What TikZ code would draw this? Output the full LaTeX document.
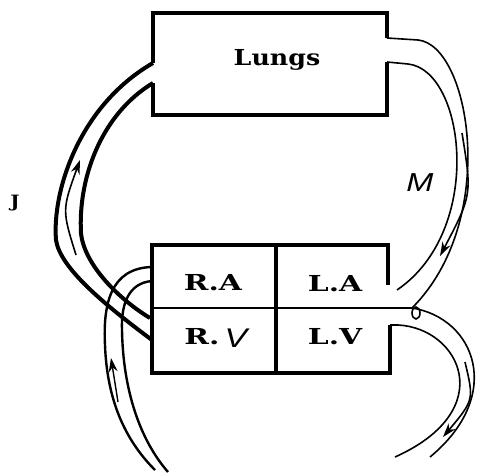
\documentclass[tikz,border=0pt]{standalone}
\usepackage{fontspec}
\usetikzlibrary{arrows.meta}
\newfontfamily\labfont[FakeStretch=1.15]{DejaVu Serif}
\newfontfamily\boxfont[FakeStretch=1.35]{DejaVu Serif}
\newfontfamily\handfont[FakeStretch=1.25]{Liberation Sans}
\begin{document}
\begin{tikzpicture}[x=1pt,y=-1pt,
  lab/.style={font=\labfont\bfseries\fontsize{22}{24}\selectfont, inner sep=0pt},
  boxlab/.style={font=\boxfont\bfseries\fontsize{22}{24}\selectfont, inner sep=0pt},
  hand/.style={font=\handfont\itshape\fontsize{27}{29}\selectfont, inner sep=0pt},
  lungwall/.style={line width=4pt, line join=miter},
  heartwall/.style={line width=3.2pt, line join=miter},
  thickvessel/.style={line width=4pt},
  medvessel/.style={line width=2.4pt},
  thinvessel/.style={line width=1.6pt},
  flow/.style={line width=1.6pt, -{Stealth[length=14pt,width=9pt]}}]
\useasboundingbox (0,0) rectangle (481,474);
\fill[white] (0,0) rectangle (481,474);

% key points
\coordinate (LuTR) at (387,38);
\coordinate (LuBR) at (387,62);
\coordinate (LuTL) at (153,63);
\coordinate (LuBL) at (153,83);
\coordinate (Jout) at (152,340);
\coordinate (Jin) at (150,318);
\coordinate (VCo) at (152,267);
\coordinate (VCi) at (152,281);
\coordinate (junc) at (412,308);
\coordinate (LAin) at (397,290);
\coordinate (LVo) at (390,325);

% Lungs box
\draw[lungwall] (LuTR) -- (387,13) -- (153,13) -- (LuTL);
\draw[lungwall] (LuBL) -- (153,115) -- (387,115) -- (LuBR);
\node[lab] (lungs) at (277,60) {Lungs};

% Heart box
\draw[heartwall] (388,285) -- (388,245) -- (152,245) -- (152,373) -- (390,373) -- (LVo);
\draw[heartwall] (276,245) -- (276,373);
\draw[line width=2.2pt] (152,308) -- (junc);
\node[boxlab] (ra) at (213,283) {R.A};
\node[boxlab] (la) at (335,284) {L.A};
\node[boxlab] (rv) at (202,337) {R.};
\node[hand] (rvv) at (236,338) {V};
\node[boxlab] (lv) at (335,337) {L.V};

% J vessel (pulmonary artery)
\draw[thickvessel] (LuTL) .. controls (80,105) and (52,190) .. (56,240)
   .. controls (60,268) and (105,305) .. (Jout);
\draw[thickvessel] (LuBL) .. controls (100,115) and (78,180) .. (81,233)
   .. controls (84,265) and (120,300) .. (Jin);
\coordinate (Ja) at (76,255);
\coordinate (Jb) at (80,160);
\draw[flow] (Ja) .. controls (62,210) .. (Jb);
\node[lab, font=\labfont\bfseries\fontsize{17}{19}\selectfont] (J) at (15,203) {J};

% Vena cava
\draw[medvessel] (VCo) .. controls (110,268) and (103,305) .. (105,345)
   .. controls (107,400) and (125,440) .. (155,470);
\draw[medvessel] (VCi) .. controls (128,283) and (121,305) .. (122,330)
   .. controls (123,390) and (140,440) .. (168,472);
\coordinate (VCa) at (118,402);
\coordinate (VCb) at (111,358);
\draw[flow, line width=1.4pt] (VCa) -- (VCb);

% Pulmonary vein (M)
\draw[thinvessel] (LuTR) -- (418,40) .. controls (470,45) and (500,220) .. (junc);
\draw[thinvessel] (LuBR) -- (408,64) .. controls (465,70) and (485,230) .. (LAin);
\coordinate (Ma) at (462,133);
\coordinate (Mb) at (440,256);
\draw[flow] (Ma) .. controls (472,195) .. (Mb);
\node[hand, font=\handfont\itshape\fontsize{26}{28}\selectfont] (M) at (420,183) {M};

% Aorta
\draw[thinvessel] (416,313) ellipse (4pt and 6pt);
\draw[thinvessel] (junc) .. controls (475,318) and (505,395) .. (430,457);
\draw[thinvessel] (LVo) -- (398,325) .. controls (460,328) and (500,410) .. (395,457);
\coordinate (Aa) at (465,362);
\coordinate (Ab) at (443,437);
\draw[flow] (Aa) .. controls (474,400) .. (Ab);
\end{tikzpicture}
\end{document}
